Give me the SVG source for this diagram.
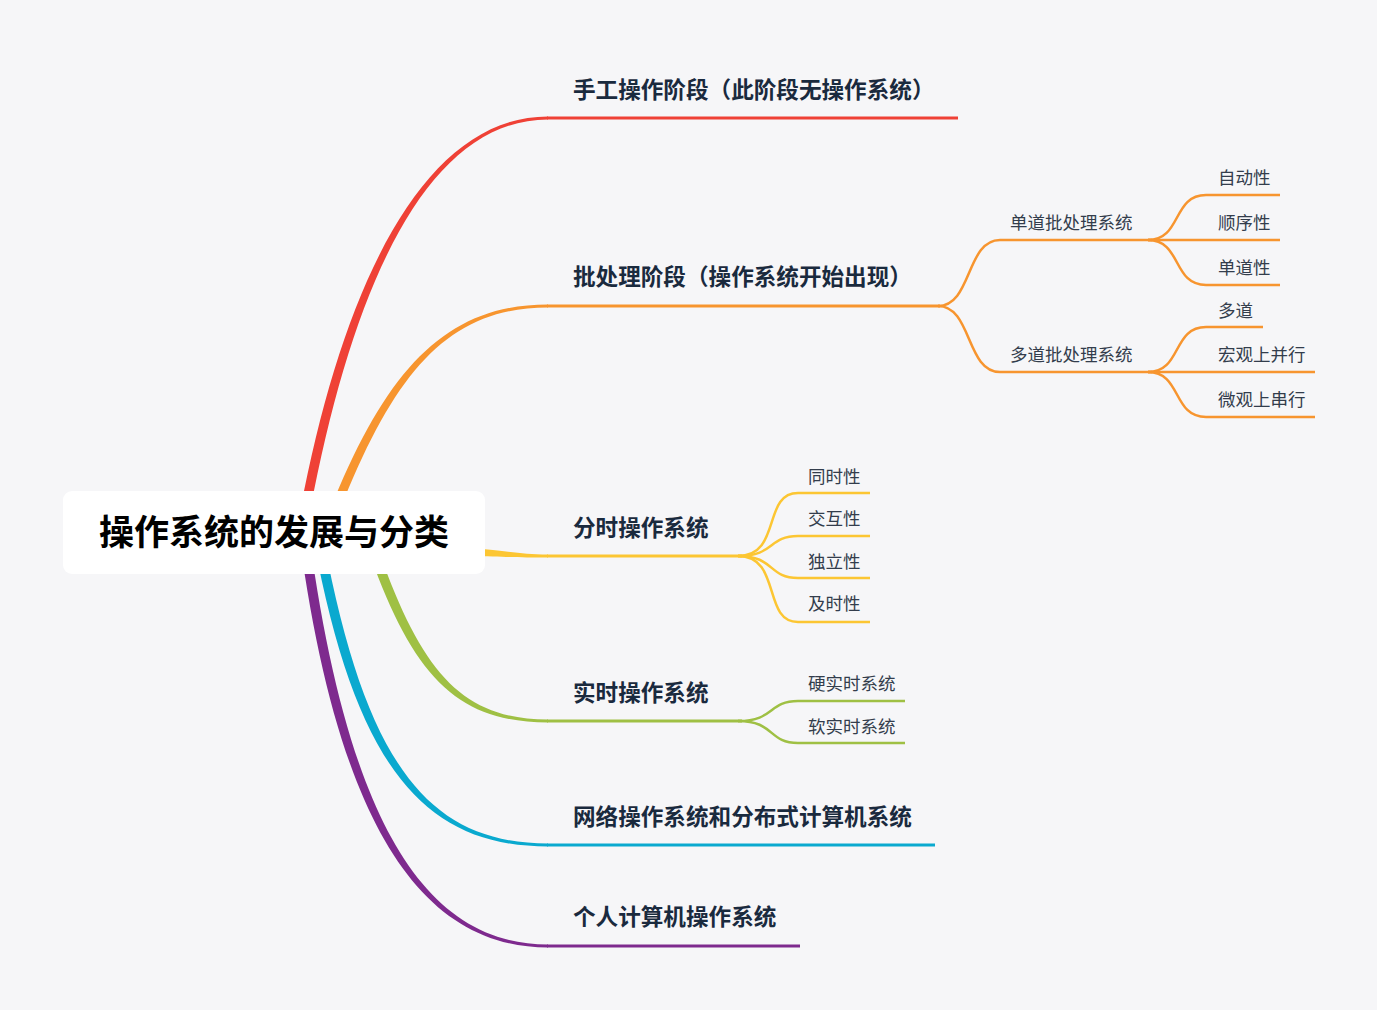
<svg xmlns="http://www.w3.org/2000/svg" width="1377" height="1010" viewBox="0 0 1377 1010">
<defs>
<style>
.main{font-family:"Noto Sans CJK SC","Noto Sans",sans-serif;font-weight:700;font-size:22.6px;fill:#1a2a3e}
.sub{font-family:"Noto Sans CJK SC","Noto Sans",sans-serif;font-size:17.5px;fill:#333d4c}
.root{font-family:"Noto Sans CJK SC","Noto Sans",sans-serif;font-weight:700;font-size:35px;fill:#000}
.ln{fill:none;stroke-linecap:butt}
.o{stroke:#f7952f}
.y{stroke:#fcc633}
.g{stroke:#9fc044}
</style>
</defs>
<rect width="1377" height="1010" fill="#f6f6f8"/>
<g id="connectors">
<path fill="#ef4136" d="M295,540 C336,300 418,116.5 548,116.5 L548,119.5 C422,119.5 346,300 305,540 Z"/>
<path fill="#f7952f" d="M315,550 C376,380 438,304.5 548,304.5 L548,307.5 C442,307.5 386,380 325,550 Z"/>
<path fill="#fcc633" d="M470,548 C510,551 520,554.5 548,554.5 L548,557.5 C520,557.5 510,557 470,556 Z"/>
<path fill="#9fc044" d="M352,500 C402,664 446,722.5 548,722.5 L548,719.5 C452,719.5 412,660 362,500 Z"/>
<path fill="#0aa9cf" d="M310,520 C352,762 420,846.5 548,846.5 L548,843.5 C424,843.5 362,758 320,520 Z"/>
<path fill="#7e2a8e" d="M297,520 C333,802 410,947.5 548,947.5 L548,944.5 C414,944.5 343,798 307,520 Z"/>
<line x1="547" y1="118" x2="958" y2="118" stroke="#ef4136" stroke-width="3"/>
<line x1="547" y1="306" x2="940" y2="306" stroke="#f7952f" stroke-width="3"/>
<line x1="547" y1="556" x2="742" y2="556" stroke="#fcc633" stroke-width="3"/>
<line x1="547" y1="721" x2="742" y2="721" stroke="#9fc044" stroke-width="3"/>
<line x1="547" y1="845" x2="935" y2="845" stroke="#0aa9cf" stroke-width="3"/>
<line x1="547" y1="946" x2="800" y2="946" stroke="#7e2a8e" stroke-width="3"/>
<path class="ln o" stroke-width="2.5" d="M938,306 C972,306 966,240 1000,240 L1152,240"/>
<path class="ln o" stroke-width="2.5" d="M938,306 C972,306 966,372 1000,372 L1152,372"/>
<path class="ln o" stroke-width="2.5" d="M1148,240 C1182,240 1172,195 1206,195 L1280,195"/>
<path class="ln o" stroke-width="2.5" d="M1148,240 L1280,240"/>
<path class="ln o" stroke-width="2.5" d="M1148,240 C1182,240 1172,285 1206,285 L1280,285"/>
<path class="ln o" stroke-width="2.5" d="M1148,372 C1182,372 1172,327 1206,327 L1263,327"/>
<path class="ln o" stroke-width="2.5" d="M1148,372 L1315,372"/>
<path class="ln o" stroke-width="2.5" d="M1148,372 C1182,372 1172,417 1206,417 L1315,417"/>
<path class="ln y" stroke-width="2.5" d="M738,556 C782,556 762,493 798,493 L870,493"/>
<path class="ln y" stroke-width="2.5" d="M738,556 C775,556 768,536 798,536 L870,536"/>
<path class="ln y" stroke-width="2.5" d="M738,556 C775,556 768,578 798,578 L870,578"/>
<path class="ln y" stroke-width="2.5" d="M738,556 C782,556 762,622 798,622 L870,622"/>
<path class="ln g" stroke-width="2.5" d="M738,721 C775,721 768,701 798,701 L905,701"/>
<path class="ln g" stroke-width="2.5" d="M738,721 C775,721 768,743 798,743 L905,743"/>
</g>
<g id="root">
<rect x="63" y="491" width="422" height="83" rx="9" fill="#ffffff"/>
<text class="root" x="274" y="545" text-anchor="middle">操作系统的发展与分类</text>
</g>
<g id="n-manual"><text class="main" x="573" y="98">手工操作阶段（此阶段无操作系统）</text></g>
<g id="n-batch"><text class="main" x="573" y="285">批处理阶段（操作系统开始出现）</text></g>
<g id="n-single"><text class="sub" x="1010" y="229">单道批处理系统</text></g>
<g id="n-multi"><text class="sub" x="1010" y="361">多道批处理系统</text></g>
<g id="n-auto"><text class="sub" x="1218" y="184">自动性</text></g>
<g id="n-seq"><text class="sub" x="1218" y="229">顺序性</text></g>
<g id="n-single2"><text class="sub" x="1218" y="274">单道性</text></g>
<g id="n-multi2"><text class="sub" x="1218" y="317">多道</text></g>
<g id="n-macro"><text class="sub" x="1218" y="361">宏观上并行</text></g>
<g id="n-micro"><text class="sub" x="1218" y="406">微观上串行</text></g>
<g id="n-ts"><text class="main" x="573" y="536">分时操作系统</text></g>
<g id="n-sim"><text class="sub" x="808" y="483">同时性</text></g>
<g id="n-inter"><text class="sub" x="808" y="525">交互性</text></g>
<g id="n-indep"><text class="sub" x="808" y="568">独立性</text></g>
<g id="n-timely"><text class="sub" x="808" y="610">及时性</text></g>
<g id="n-rt"><text class="main" x="573" y="701">实时操作系统</text></g>
<g id="n-hard"><text class="sub" x="808" y="690">硬实时系统</text></g>
<g id="n-soft"><text class="sub" x="808" y="733">软实时系统</text></g>
<g id="n-net"><text class="main" x="573" y="825">网络操作系统和分布式计算机系统</text></g>
<g id="n-pc"><text class="main" x="573" y="925">个人计算机操作系统</text></g>
</svg>
